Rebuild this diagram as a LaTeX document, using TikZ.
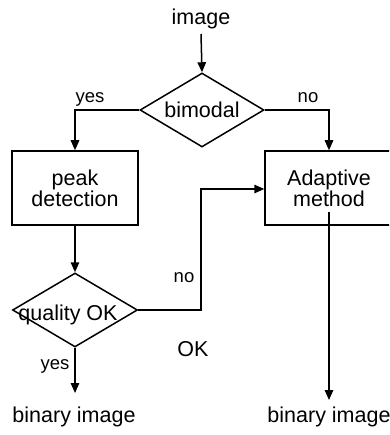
\documentclass[tikz,border=0pt]{standalone}
\usepackage{fontspec}
\setmainfont{Liberation Sans}
\usetikzlibrary{arrows.meta,shapes.geometric}
\begin{document}
\begin{tikzpicture}[x=1pt,y=-1pt,
  line width=1.5pt,
  arr/.style={-{Triangle[length=10pt,width=8.5pt]}},
  big/.style={font=\fontsize{21.5}{22}\selectfont},
  small/.style={font=\fontsize{18.5}{20}\selectfont},
  boxnode/.style={draw,rectangle,inner sep=0pt,minimum width=126pt,minimum height=74pt,align=center,big},
  dia/.style={draw,diamond,inner sep=0pt,minimum width=124pt,minimum height=74pt}]
\useasboundingbox (0,0) rectangle (389,435);
\clip (0,0) rectangle (389,435);
\node[big,anchor=base] (img) at (201,25) {image};
\node[dia] (bim) at (202,110) {};
\node[big,anchor=base] (bimt) at (202,118) {bimodal};
\node[boxnode] (peak) at (75,188) {peak\\[-1pt]detection};
\node[boxnode,minimum width=128pt] (adapt) at (329,188) {Adaptive\\[-1pt]method};
\node[dia,minimum width=125pt] (qual) at (75,310) {};
\node[big,anchor=base] (qualt) at (68,320) {quality OK};
\node[small,anchor=base] (yes1) at (90,103) {yes};
\node[small,anchor=base] (no1) at (308,103) {no};
\node[small,anchor=base] (no2) at (184,282) {no};
\node[big,anchor=base] (ok) at (193,356) {OK};
\node[small,anchor=base] (yes2) at (55,369) {yes};
\node[big,anchor=base] (bin1) at (74,422) {binary image};
\node[big,anchor=base] (bin2) at (329,422) {binary image};
\coordinate (rs) at (329,212);
\coordinate (re) at (329,400);
\coordinate (le) at (75,393);
\draw[arr] (img.south |- 0,34) -- (bim.north);
\draw[arr] (bim.west) -| (peak.north);
\draw[arr] (bim.east) -| (adapt.north);
\draw[arr] (peak.south) -- (qual.north);
\draw[arr] (qual.east) -- (201,310) |- (adapt.west |- 0,189);
\draw[arr] (qual.south) -- (le);
\draw[arr] (rs) -- (re);
\end{tikzpicture}
\end{document}
